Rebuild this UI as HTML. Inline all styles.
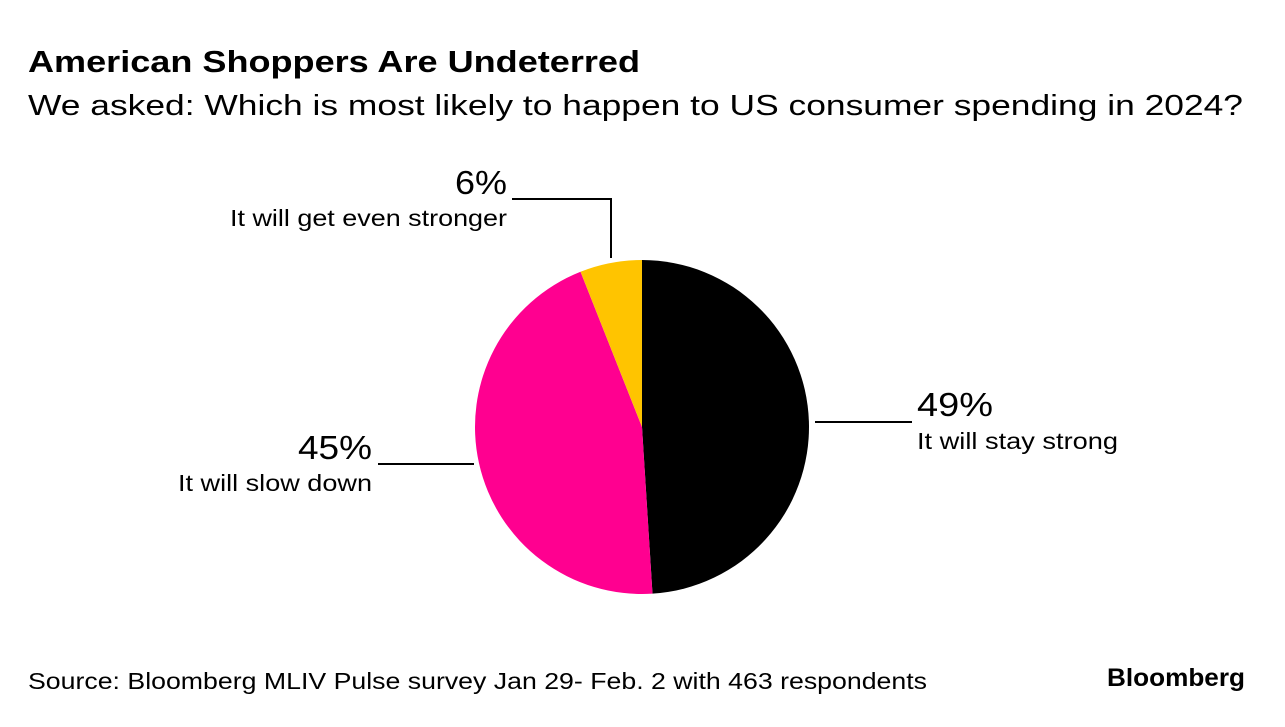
<!DOCTYPE html>
<html><head><meta charset="utf-8"><style>
body{margin:0;background:#fff;width:1285px;height:722px;overflow:hidden;font-family:"Liberation Sans",sans-serif}
</style></head><body>
<svg width="1285" height="722" font-family="Liberation Sans, sans-serif">
<text x="28" y="72" font-size="31" font-weight="bold" fill="#000" textLength="612" lengthAdjust="spacingAndGlyphs">American Shoppers Are Undeterred</text>
<text x="28" y="115" font-size="29" fill="#000" textLength="1215" lengthAdjust="spacingAndGlyphs">We asked: Which is most likely to happen to US consumer spending in 2024?</text>
<g id="pie"></g>
<g>
<line x1="815" y1="422" x2="912" y2="422" stroke="#000" stroke-width="2"/>
<text x="917" y="416" font-size="33" textLength="76" lengthAdjust="spacingAndGlyphs">49%</text>
<text x="917" y="449" font-size="23" textLength="201" lengthAdjust="spacingAndGlyphs">It will stay strong</text>
</g>
<g>
<line x1="378" y1="464" x2="474" y2="464" stroke="#000" stroke-width="2"/>
<text x="298" y="459" font-size="33" textLength="74" lengthAdjust="spacingAndGlyphs">45%</text>
<text x="178" y="491" font-size="23" textLength="194" lengthAdjust="spacingAndGlyphs">It will slow down</text>
</g>
<g>
<polyline points="512,199 611,199 611,258" fill="none" stroke="#000" stroke-width="2"/>
<text x="455" y="194" font-size="33" textLength="52" lengthAdjust="spacingAndGlyphs">6%</text>
<text x="230" y="226" font-size="23" textLength="277" lengthAdjust="spacingAndGlyphs">It will get even stronger</text>
</g>
<text x="28" y="689" font-size="23" textLength="899" lengthAdjust="spacingAndGlyphs">Source: Bloomberg MLIV Pulse survey Jan 29- Feb. 2 with 463 respondents</text>
<text x="1107" y="686" font-size="25" font-weight="bold" textLength="138" lengthAdjust="spacingAndGlyphs">Bloomberg</text>
</svg>
<script>
const categories=["It will stay strong","It will slow down","It will get even stronger"];
const values=[49,45,6];
const colors=["#000000","#ff0090","#ffc400"];
const cx=642,cy=427,r=167;
const g=document.getElementById('pie');
const total=values.reduce((a,b)=>a+b,0);
let a0=0;
function pt(a){return [cx+r*Math.sin(a),cy-r*Math.cos(a)];}
values.forEach((v,i)=>{
  const a1=a0+v/total*2*Math.PI;
  const p0=pt(a0),p1=pt(a1);
  const large=(a1-a0)>Math.PI?1:0;
  const p=document.createElementNS('http://www.w3.org/2000/svg','path');
  p.setAttribute('d',`M${cx},${cy}L${p0[0]},${p0[1]}A${r},${r} 0 ${large} 1 ${p1[0]},${p1[1]}Z`);
  p.setAttribute('fill',colors[i]);
  
  
  g.appendChild(p);
  a0=a1;
});
</script>
</body></html>
